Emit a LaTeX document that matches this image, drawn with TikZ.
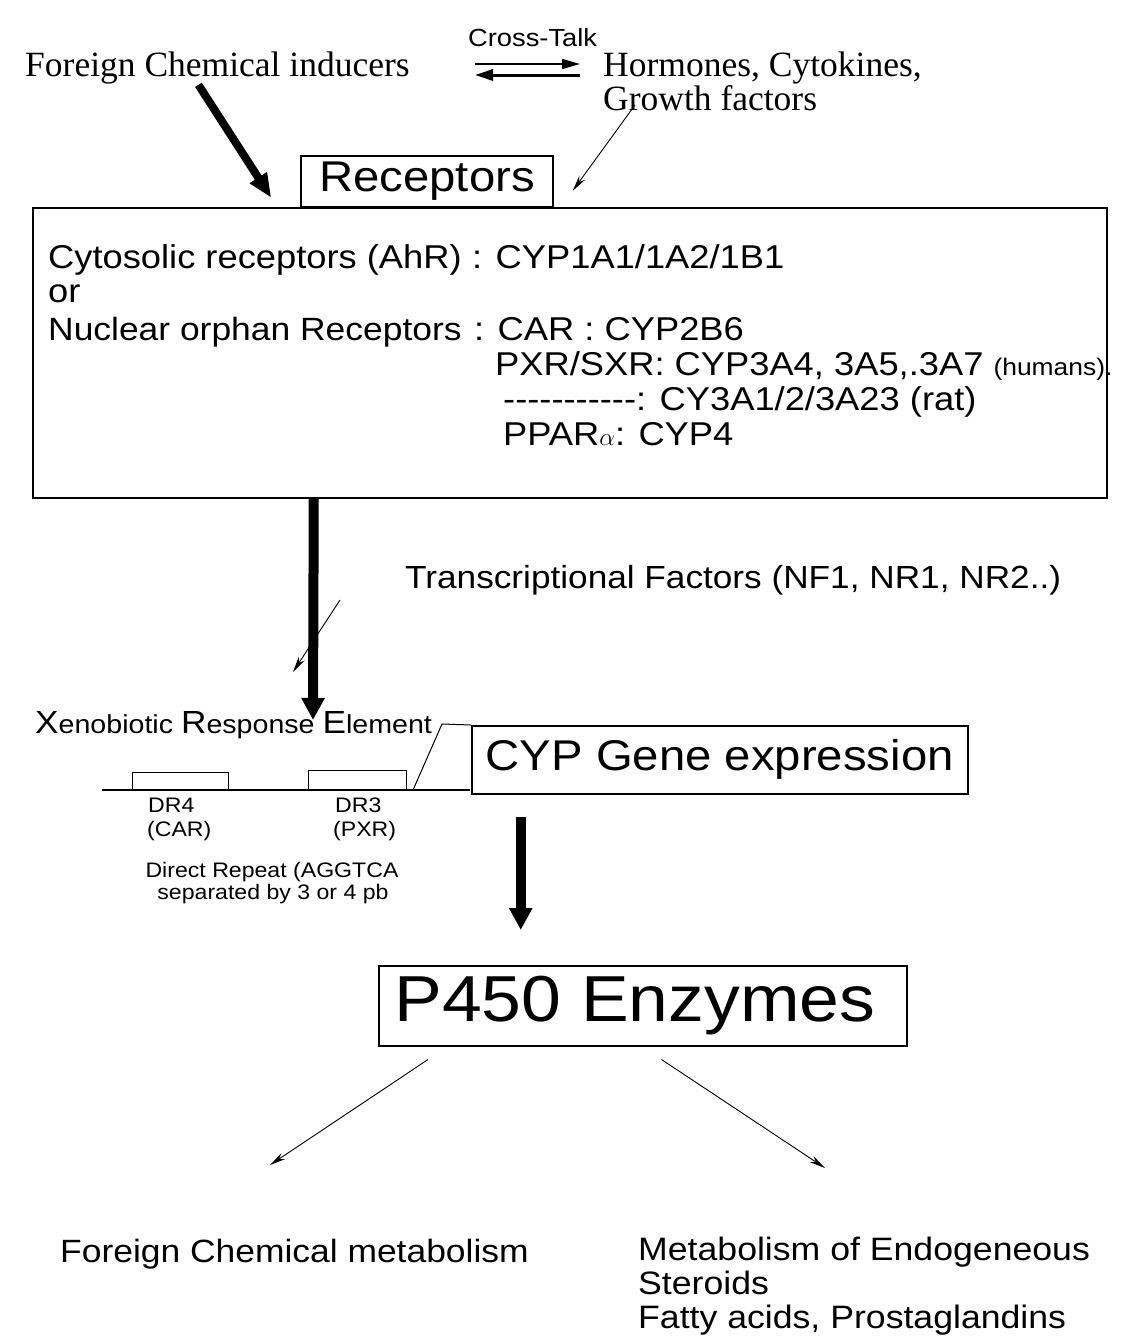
\documentclass[tikz,border=0pt]{standalone}
\usepackage{fontspec}
\setmainfont{Liberation Serif}
\setsansfont[FakeStretch=1.1]{Liberation Sans}
\usetikzlibrary{arrows.meta}
\newcommand{\setfs}[1]{\fontsize{#1}{#1}\selectfont}
\newcommand{\hyph}{-\kern0pt}

\begin{document}
\begin{tikzpicture}[x=1pt, y=-1pt,
    txt/.style={inner sep=0pt, anchor=base west, font=\sffamily\setfs{33}},
    serif/.style={inner sep=0pt, anchor=base west, font=\rmfamily\setfs{35.5}},
    box/.style={draw, line width=1.5pt, inner sep=0pt, font=\sffamily\setfs{43}},
    drbox/.style={draw, line width=1.2pt, inner sep=0pt, anchor=south west},
    bigarr/.style={line width=9pt, -{Triangle[length=22pt,width=22pt]}},
    thinarr/.style={line width=0.9pt, -{Stealth[length=16pt,width=7pt]}}]
\useasboundingbox (0,0) rectangle (1129,1341);

% top
\node[serif] (inducers) at (25,76) {Foreign Chemical inducers};
\node[txt, font=\sffamily\setfs{24.8}] (ct) at (468,46) {Cross-Talk};
\node[serif] (horm) at (603,76) {Hormones, Cytokines,};
\node[serif] (growth) at (603,110) {Growth factors};
\coordinate (ctl1) at (475,64);
\coordinate (ctr1) at (580,64);
\coordinate (ctl2) at (475,75);
\coordinate (ctr2) at (580,75);
\draw[line width=1.3pt, -{Triangle[length=18pt,width=10pt]}] (ctl1) -- (ctr1);
\draw[line width=3pt, -{Triangle[length=18pt,width=11pt]}] (ctr2) -- (ctl2);

% receptors
\node[box, minimum width=252pt, minimum height=51pt] (rec) at (427,181.5) {Receptors};
\node[draw, line width=1.5pt, minimum width=1074pt, minimum height=290pt, anchor=north west] (recbox) at (32,207) {};
\draw[bigarr, line width=8pt, -{Triangle[length=24pt,width=19pt]}] ([shift={(-19,1)}]inducers.south) -- ([shift={(-29,-10)}]rec.south west);
\draw[thinarr] ([shift={(32,-5)}]growth.base west) -- ([shift={(19,-17)}]rec.south east);

\node[txt] (cyto) at (48,268) {Cytosolic receptors (AhR)};
\node[txt] (cyto2) at (472,268) {: CYP1A1/1A2/1B1};
\node[txt] (or) at (48,302) {or};
\node[txt, font=\sffamily\setfs{32.2}] (nuc) at (48,340) {Nuclear orphan Receptors};
\node[txt] (nuc2) at (474,340) {: CAR : CYP2B6};
\node[txt] (pxr) at (495,375) {PXR/SXR: CYP3A4, 3A5,.3A7 {\setfs{24}(humans).}};
\node[txt] (rat) at (503,410) {\hyph\hyph\hyph\hyph\hyph\hyph\hyph\hyph\hyph\hyph\hyph: CY3A1/2/3A23 (rat)};
\node[txt] (ppar) at (503,445) {PPAR$\alpha$: CYP4};

% to the gene
\node[txt, font=\sffamily\setfs{32}] (tf) at (405,588) {Transcriptional Factors (NF1, NR1, NR2..)};
\coordinate (xretip) at (313,720);
\coordinate (tftip) at (293,672);
\draw[bigarr, line width=10pt] ([shift={(-256,0)}]recbox.south) -- (xretip);
\draw[thinarr] ([shift={(-65,12)}]tf.base west) -- (tftip);

\node[txt, font=\sffamily\setfs{26}] (xre) at (35,733) {{\setfs{32}X}enobiotic {\setfs{32}R}esponse {\setfs{32}E}lement};
\node[box, minimum width=496pt, minimum height=68pt, anchor=north west] (cyp) at (471,725) {CYP Gene expression};
\coordinate (dnaL) at (102,790);
\coordinate (dnaR) at (470,790);
\coordinate (sl0) at (413,790);
\coordinate (sl1) at (442,724);
\draw[line width=1.2pt] (dnaL) -- (dnaR);
\draw[line width=1pt] (sl0) -- (sl1) -- (cyp.north west);
\node[drbox, minimum width=96pt, minimum height=17pt] (dr4) at (132,790) {};
\node[drbox, minimum width=98pt, minimum height=19pt] (dr3) at (308,790) {};
\node[txt, font=\sffamily\setfs{21}] (dr4l) at (148,812) {DR4};
\node[txt, font=\sffamily\setfs{21}] (carl) at (147,836) {(CAR)};
\node[txt, font=\sffamily\setfs{21}] (dr3l) at (335,812) {DR3};
\node[txt, font=\sffamily\setfs{21}] (pxrl) at (333,836) {(PXR)};
\node[txt, anchor=base, font=\sffamily\setfs{21}] (drep) at (272,877) {Direct Repeat (AGGTCA};
\node[txt, anchor=base, font=\sffamily\setfs{21}] (sepl) at (273,899) {separated by 3 or 4 pb};

% enzymes
\node[box, font=\sffamily\setfs{65}, minimum width=528pt, minimum height=80pt, anchor=north west] (p450) at (378,965) {P450 Enzymes\kern16pt};
\draw[bigarr, line width=10pt] ([shift={(-199,22)}]cyp.south) -- ([shift={(-122,-35)}]p450.north);

\node[txt, font=\sffamily\setfs{32.2}] (fcm) at (60,1262) {Foreign Chemical metabolism};
\node[txt, font=\sffamily\setfs{32.4}] (met1) at (638,1260) {Metabolism of Endogeneous};
\node[txt, font=\sffamily\setfs{32.4}] (met2) at (638,1294) {Steroids};
\node[txt, font=\sffamily\setfs{32.4}] (met3) at (638,1328) {Fatty acids, Prostaglandins};
\draw[thinarr] ([shift={(50,13)}]p450.south west) -- ([shift={(210,-97)}]fcm.base west);
\draw[thinarr] ([shift={(-246,13)}]p450.south east) -- ([shift={(187,-92)}]met1.base west);
\end{tikzpicture}
\end{document}
